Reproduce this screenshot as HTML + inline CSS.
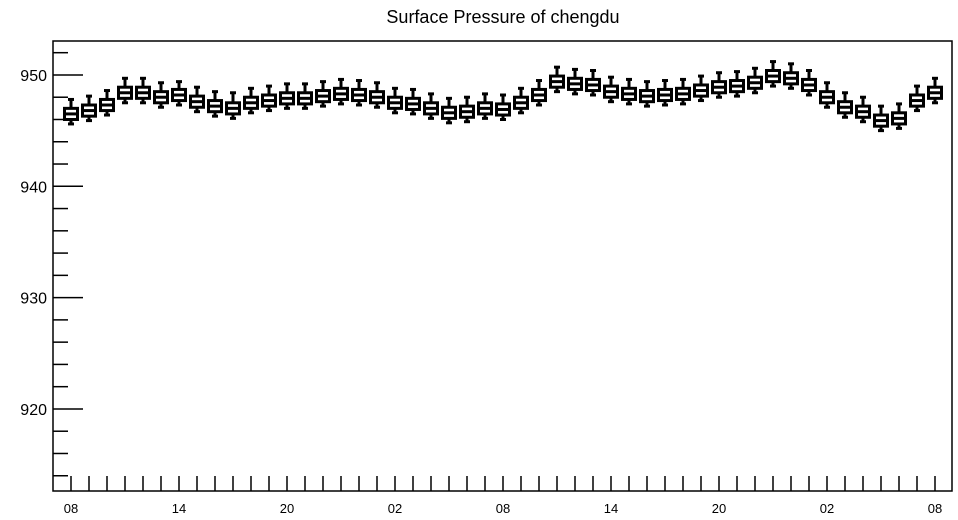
<!DOCTYPE html>
<html><head><meta charset="utf-8"><style>
html,body{margin:0;padding:0;background:#fff}
svg{display:block;font-family:"Liberation Sans",sans-serif}
</style></head><body>
<svg id="chart" width="958" height="520">
<text x="503" y="23" text-anchor="middle" font-size="18">Surface Pressure of chengdu</text>
<rect x="53" y="41" width="899" height="450" fill="none" stroke="#000" stroke-width="1.5"/>
<g id="axes"></g>
<g id="boxes"></g>
</svg>
<script>
const medians=[946.5,946.8,947.3,948.4,948.4,948.0,948.2,947.6,947.2,947.0,947.5,947.7,947.9,947.9,948.1,948.3,948.2,948.0,947.5,947.4,947.0,946.6,946.7,947.0,946.9,947.5,948.2,949.4,949.2,949.1,948.5,948.3,948.1,948.2,948.3,948.6,948.9,949.0,949.3,949.9,949.7,949.1,948.0,947.1,946.7,945.9,946.1,947.7,948.4];
const q1=[946.0,946.3,946.8,947.9,947.9,947.5,947.7,947.1,946.7,946.5,947.0,947.2,947.4,947.4,947.6,947.8,947.7,947.5,947.0,946.9,946.5,946.1,946.2,946.5,946.4,947.0,947.7,948.9,948.7,948.6,948.0,947.8,947.6,947.7,947.8,948.1,948.4,948.5,948.8,949.4,949.2,948.6,947.5,946.6,946.2,945.4,945.6,947.2,947.9];
const q3=[947.0,947.3,947.8,948.9,948.9,948.5,948.7,948.1,947.7,947.5,948.0,948.2,948.4,948.4,948.6,948.8,948.7,948.5,948.0,947.9,947.5,947.1,947.2,947.5,947.4,948.0,948.7,949.9,949.7,949.6,949.0,948.8,948.6,948.7,948.8,949.1,949.4,949.5,949.8,950.4,950.2,949.6,948.5,947.6,947.2,946.4,946.6,948.2,948.9];
const lows=[945.6,945.9,946.4,947.5,947.5,947.1,947.3,946.7,946.3,946.1,946.6,946.8,947.0,947.0,947.2,947.4,947.3,947.1,946.6,946.5,946.1,945.7,945.8,946.1,946.0,946.6,947.3,948.5,948.3,948.2,947.6,947.4,947.2,947.3,947.4,947.7,948.0,948.1,948.4,949.0,948.8,948.2,947.1,946.2,945.8,945.0,945.2,946.8,947.5];
const highs=[947.8,948.1,948.6,949.7,949.7,949.3,949.4,948.9,948.5,948.4,948.8,949.0,949.2,949.2,949.4,949.6,949.5,949.3,948.8,948.7,948.3,947.9,948.0,948.3,948.2,948.8,949.5,950.7,950.5,950.4,949.8,949.6,949.4,949.5,949.6,949.9,950.2,950.3,950.6,951.2,951.0,950.4,949.3,948.4,948.0,947.2,947.4,949.0,949.7];
const yTicks=[920,930,940,950];
const xLabels=["08","14","20","02","08","14","20","02","08"];
const NS="http://www.w3.org/2000/svg";
const L=53,R=952,T=41,B=491,yMin=912.63,yMax=953.05;
const y=v=>B-(v-yMin)/(yMax-yMin)*(B-T);
const x=i=>71+i*18;
function mk(tag,attrs,parent){const e=document.createElementNS(NS,tag);for(const k in attrs)e.setAttribute(k,attrs[k]);parent.appendChild(e);return e;}
const ax=document.getElementById('axes'),bx=document.getElementById('boxes');
for(let v=914;v<=952;v+=2){const major=v%10===0;
 const t=mk('line',{x1:L,x2:L+(major?30:15),y1:y(v),y2:y(v),stroke:'#000','stroke-width':1.5},ax);
 }
yTicks.forEach(v=>{const t=mk('text',{x:47,y:y(v)+6,'text-anchor':'end','font-size':16},ax);t.textContent=v;
 });
medians.forEach((m,i)=>{const t=mk('line',{x1:x(i),x2:x(i),y1:B,y2:B-15,stroke:'#000','stroke-width':1.5},ax);
 });
xLabels.forEach((s,j)=>{const t=mk('text',{x:x(j*6),y:513,'text-anchor':'middle','font-size':13},ax);t.textContent=s;
 });
medians.forEach((m,i)=>{const g=mk('g',{stroke:'#000','stroke-width':3,fill:'#fff'},bx);
 
 const cx=x(i),w=13;
 mk('line',{x1:cx,x2:cx,y1:y(highs[i]),y2:y(q3[i])},g);
 mk('line',{x1:cx,x2:cx,y1:y(q1[i]),y2:y(lows[i])},g);
 mk('line',{x1:cx-3,x2:cx+3,y1:y(highs[i]),y2:y(highs[i])},g);
 mk('line',{x1:cx-3,x2:cx+3,y1:y(lows[i]),y2:y(lows[i])},g);
 mk('rect',{x:cx-w/2,y:y(q3[i]),width:w,height:y(q1[i])-y(q3[i])},g);
 mk('line',{x1:cx-w/2,x2:cx+w/2,y1:y(m),y2:y(m)},g);
});
</script>
</body></html>
